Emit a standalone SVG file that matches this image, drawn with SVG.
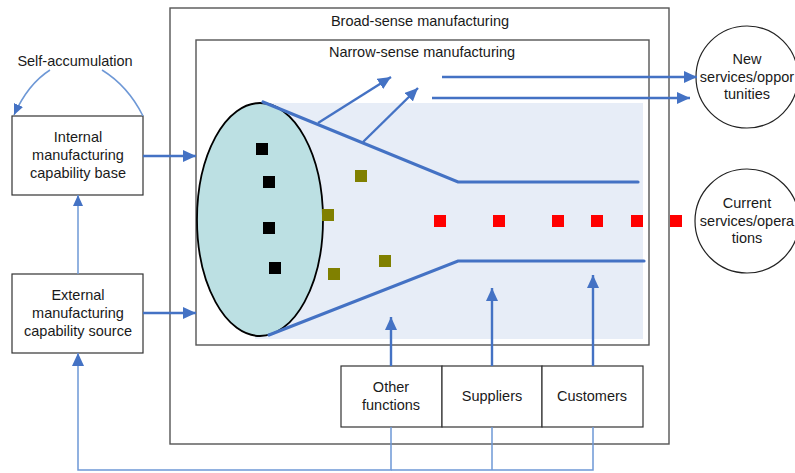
<svg xmlns="http://www.w3.org/2000/svg" width="795" height="473" viewBox="0 0 795 473">
  <style>
    text { font-family: "Liberation Sans", Arial, sans-serif; font-size: 14.5px; fill: #1a1a1a; text-anchor: middle; }
    .box { fill: #fff; stroke: #333; stroke-width: 1.2; }
    .frame { fill: none; stroke: #555; stroke-width: 1.4; }
    .thick { fill: none; stroke: #4472C4; stroke-width: 3.2; stroke-linecap: round; }
    .arr { fill: none; stroke: #4472C4; stroke-width: 2.4; }
    .thin { fill: none; stroke: #6E98D6; stroke-width: 1.5; }
    .blk { fill: #000; }
    .olv { fill: #808000; }
    .red { fill: #FF0000; }
  </style>
  <defs>
    <marker id="ah" markerUnits="userSpaceOnUse" markerWidth="14" markerHeight="12" refX="13" refY="6" orient="auto">
      <path d="M0,0 L13,6 L0,12 z" fill="#4472C4"/>
    </marker>
    <marker id="ahs" markerUnits="userSpaceOnUse" markerWidth="12" markerHeight="12" refX="11" refY="5" orient="auto">
      <path d="M0,0 L11,5 L0,10 z" fill="#4472C4"/>
    </marker>
  </defs>

  <rect width="795" height="473" fill="#fff"/>

  <!-- outer frame: broad-sense manufacturing -->
  <g id="broad">
    <rect class="frame" x="170" y="8" width="499" height="436"/>
    <text x="420" y="26">Broad-sense manufacturing</text>
  </g>

  <!-- inner frame: narrow-sense manufacturing -->
  <g id="narrow">
    <rect class="frame" x="196" y="40" width="453" height="305"/>
    <text x="422" y="57">Narrow-sense manufacturing</text>
    <rect x="255" y="103" width="388" height="236" fill="#E7EDF7"/>
  </g>

  <!-- capability funnel -->
  <g id="funnel">
    <ellipse cx="260" cy="219.5" rx="63" ry="116.5" fill="#BCE0E3" stroke="#000" stroke-width="1.8"/>
    <polyline class="thick" points="263,102 458,182 638,182"/>
    <polyline class="thick" points="269,335 458,261 644,261"/>
  </g>

  <!-- capability items -->
  <g id="items">
    <rect class="blk" x="256" y="143" width="12" height="12"/>
    <rect class="blk" x="263" y="176" width="12" height="12"/>
    <rect class="blk" x="263" y="222" width="12" height="12"/>
    <rect class="blk" x="269" y="262" width="12" height="12"/>
    <rect class="olv" x="355" y="170" width="12" height="12"/>
    <rect class="olv" x="322" y="209" width="12" height="12"/>
    <rect class="olv" x="379" y="255" width="12" height="12"/>
    <rect class="olv" x="328" y="268" width="12" height="12"/>
    <rect class="red" x="434" y="215" width="12" height="12"/>
    <rect class="red" x="493" y="215" width="12" height="12"/>
    <rect class="red" x="552" y="215" width="12" height="12"/>
    <rect class="red" x="591" y="215" width="12" height="12"/>
    <rect class="red" x="631" y="215" width="12" height="12"/>
    <rect class="red" x="670" y="215" width="12" height="12"/>
  </g>

  <g id="internal">
    <rect class="box" x="12" y="116" width="131" height="79"/>
    <text x="78" y="142">Internal</text>
    <text x="78" y="160">manufacturing</text>
    <text x="78" y="178">capability base</text>
  </g>

  <g id="external">
    <rect class="box" x="12" y="274" width="131" height="79"/>
    <text x="78" y="300">External</text>
    <text x="78" y="318">manufacturing</text>
    <text x="78" y="336">capability source</text>
  </g>

  <g id="self-accumulation">
    <text x="75" y="66">Self-accumulation</text>
  </g>

  <g id="other-functions">
    <rect class="box" x="341" y="366" width="101" height="61"/>
    <text x="391" y="392">Other</text>
    <text x="391" y="410">functions</text>
  </g>
  <g id="suppliers">
    <rect class="box" x="442" y="366" width="100" height="61"/>
    <text x="492" y="401">Suppliers</text>
  </g>
  <g id="customers">
    <rect class="box" x="542" y="366" width="101" height="61"/>
    <text x="592" y="401">Customers</text>
  </g>

  <g id="new-services">
    <circle cx="747" cy="77" r="51" fill="#fff" stroke="#222" stroke-width="1.2"/>
    <text x="747" y="64">New</text>
    <text x="747" y="82">services/oppor</text>
    <text x="747" y="99">tunities</text>
  </g>

  <g id="current-services">
    <circle cx="747" cy="221" r="52" fill="#fff" stroke="#222" stroke-width="1.2"/>
    <text x="747" y="208">Current</text>
    <text x="747" y="226">services/opera</text>
    <text x="747" y="243">tions</text>
  </g>

  <!-- connectors -->
  <g id="connectors">
    <path class="thin" d="M50,70 Q28,84 14,115" marker-end="url(#ahs)"/>
    <path class="thin" d="M102,70 Q128,86 143,116"/>
    <line class="arr" x1="143" y1="156" x2="196" y2="156" marker-end="url(#ah)"/>
    <line class="arr" x1="143" y1="313" x2="196" y2="313" marker-end="url(#ah)"/>
    <line class="thin" x1="78" y1="274" x2="78" y2="195" marker-end="url(#ahs)"/>
    <line class="arr" x1="318" y1="123" x2="391" y2="77" marker-end="url(#ah)"/>
    <line class="arr" x1="363" y1="142" x2="418" y2="88" marker-end="url(#ah)"/>
    <line class="arr" x1="442" y1="77" x2="697" y2="77" marker-end="url(#ah)"/>
    <line class="arr" x1="432" y1="98" x2="690" y2="98" marker-end="url(#ah)"/>
    <line class="arr" x1="391" y1="366" x2="391" y2="317" marker-end="url(#ah)"/>
    <line class="arr" x1="492" y1="366" x2="492" y2="288" marker-end="url(#ah)"/>
    <line class="arr" x1="593" y1="366" x2="593" y2="275" marker-end="url(#ah)"/>
    <polyline class="thin" points="391,427 391,470 78,470 78,353" marker-end="url(#ah)"/>
    <polyline class="thin" points="492,427 492,470"/>
    <polyline class="thin" points="593,427 593,470 391,470"/>
  </g>
</svg>
